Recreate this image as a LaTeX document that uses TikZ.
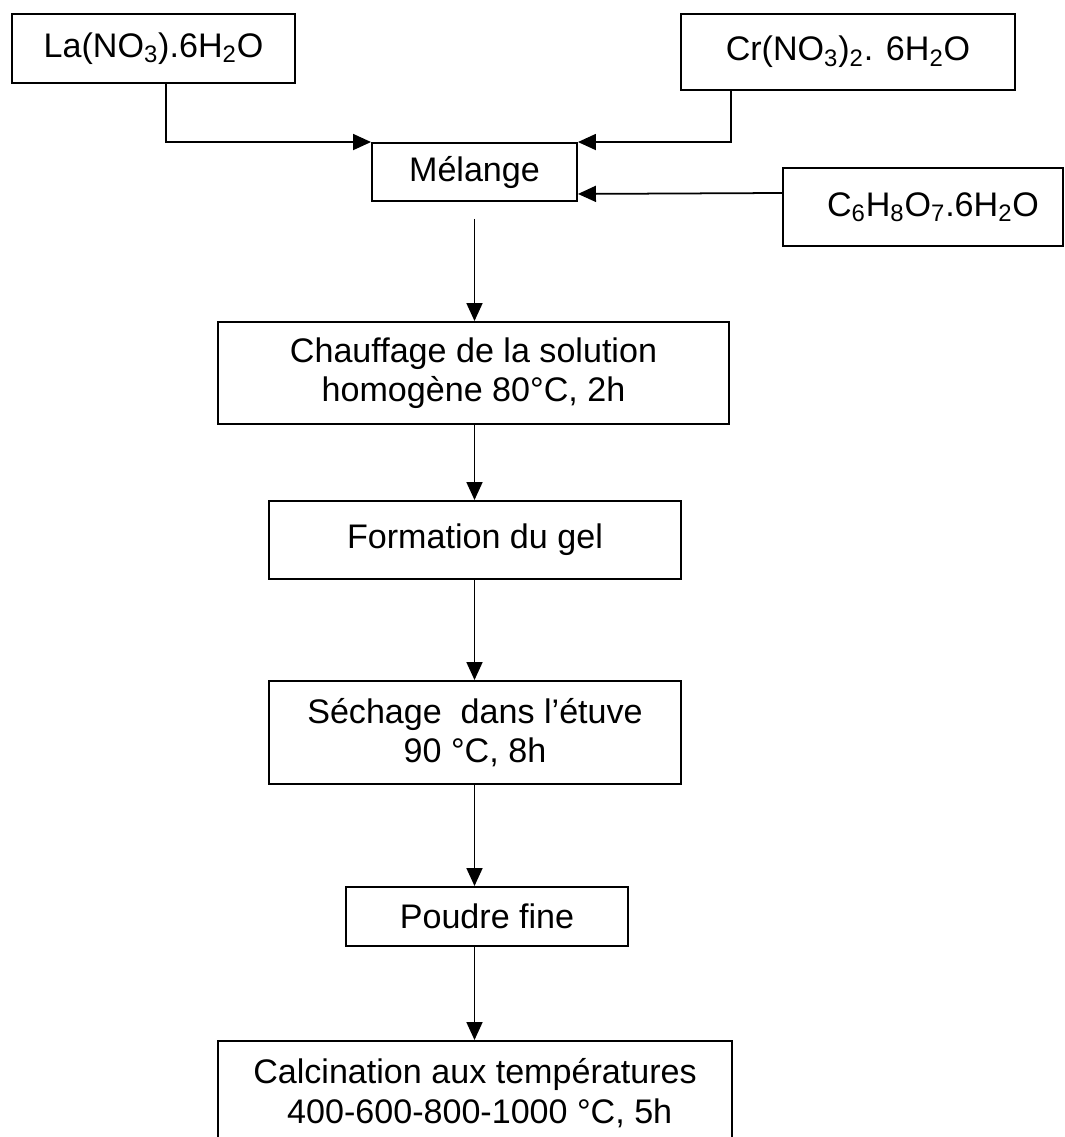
\documentclass[tikz,border=0pt]{standalone}
\usepackage{fontspec}
\setmainfont{Liberation Sans}
\usetikzlibrary{arrows.meta}

\begin{document}
\begin{tikzpicture}[
  box/.style={draw,line width=1.1pt,align=center,inner sep=0pt,font=\fontsize{19.4}{22.5}\selectfont},
  flow/.style={line width=1pt,-{Triangle[length=0.36cm,width=0.32cm]}}
]
\useasboundingbox (0,0) rectangle (21.3,22.74);

% Draw the precursors
\node[box,minimum width=5.66cm,minimum height=1.38cm] (la) at (3.07,21.77) {La(NO\textsubscript{3}).6H\textsubscript{2}O};
\node[box,minimum width=6.68cm,minimum height=1.52cm] (cr) at (16.96,21.70) {Cr(NO\textsubscript{3})\textsubscript{2}. 6H\textsubscript{2}O};
\node[box,minimum width=5.60cm,minimum height=1.56cm] (acid) at (18.46,18.60) {\hspace{0.4cm}C\textsubscript{6}H\textsubscript{8}O\textsubscript{7}.6H\textsubscript{2}O};

% Draw the process steps
\node[box,minimum width=4.10cm,minimum height=1.16cm] (mix) at (9.49,19.30) {\raisebox{-0.1cm}{Mélange}};
\node[box,minimum width=10.22cm,minimum height=2.04cm] (heat) at (9.47,15.28) {Chauffage de la solution\\homogène 80°C, 2h};
\node[box,minimum width=8.24cm,minimum height=1.56cm] (gel) at (9.50,11.94) {\raisebox{0.1cm}{Formation du gel}};
\node[box,minimum width=8.24cm,minimum height=2.06cm] (dry) at (9.50,8.09) {Séchage\ \ dans l’étuve\\90 °C, 8h};
\node[box,minimum width=5.64cm,minimum height=1.18cm] (powder) at (9.74,4.41) {Poudre fine};
\node[box,minimum width=10.28cm,minimum height=2.08cm] (calc) at (9.50,0.88) {Calcination aux températures\\\ 400-600-800-1000 °C, 5h};

% Add the inputs to the mixture
\draw[flow] ([xshift=0.25cm]la.south) |- (mix.north west);
\draw[flow] ([xshift=1.02cm]cr.south west) |- (mix.north east);
\draw[flow] ([yshift=0.28cm]acid.west) -- ([yshift=0.16cm]mix.south east);

% Add the flow down the steps
\coordinate (mixout) at (9.49,18.36);
\draw[flow] (mixout) -- (mixout |- heat.north);
\draw[flow] (mixout |- heat.south) -- (mixout |- gel.north);
\draw[flow] (mixout |- gel.south) -- (mixout |- dry.north);
\draw[flow] (mixout |- dry.south) -- (mixout |- powder.north);
\draw[flow] (mixout |- powder.south) -- (mixout |- calc.north);
\end{tikzpicture}
\end{document}
